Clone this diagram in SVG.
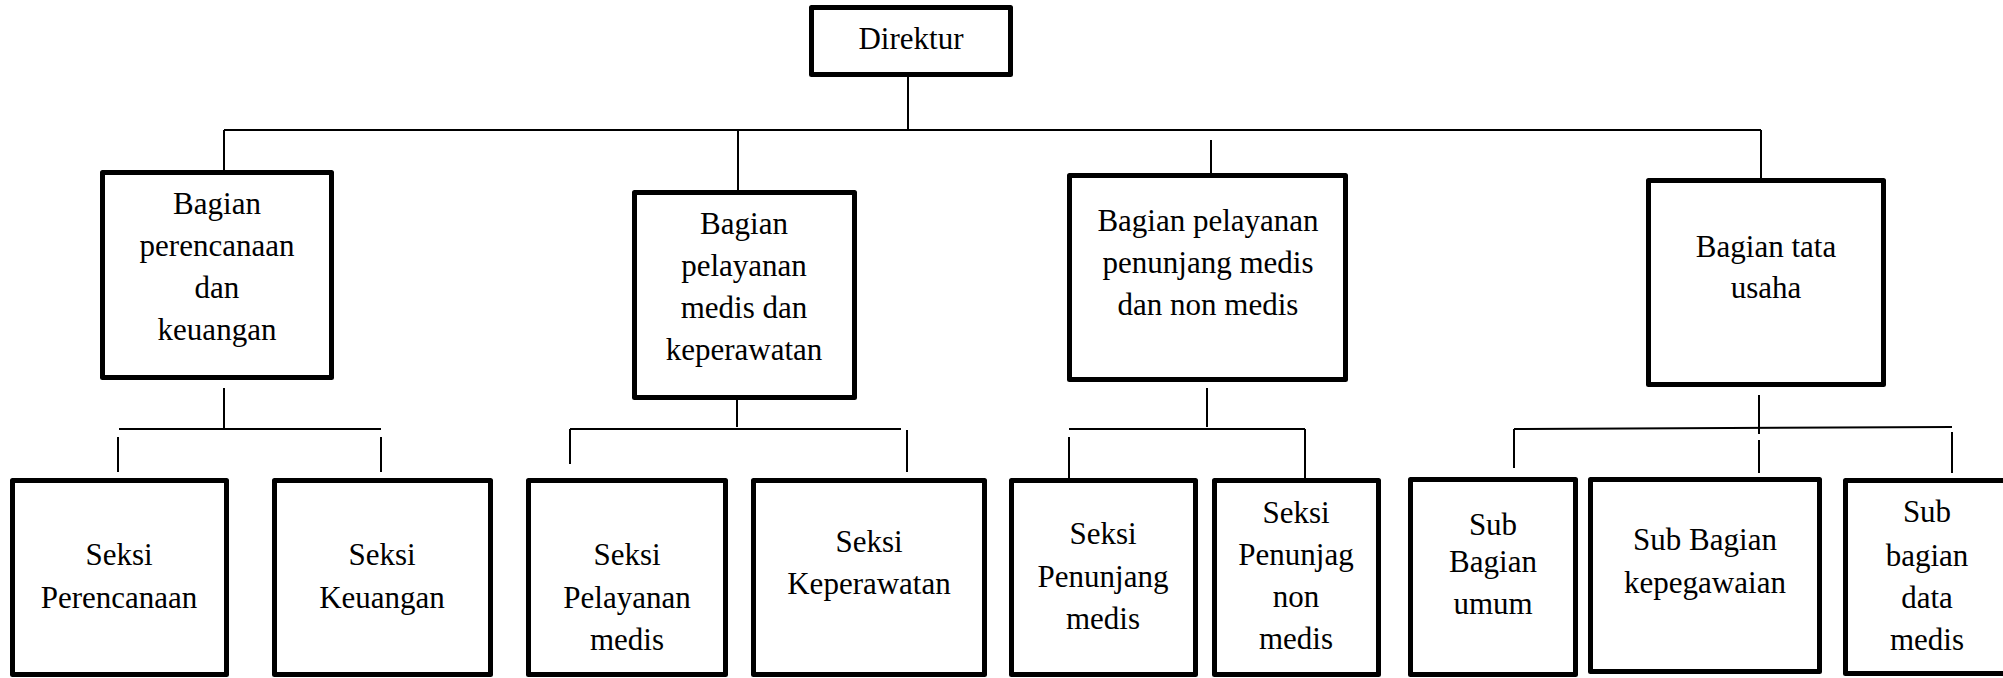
<svg xmlns="http://www.w3.org/2000/svg" width="2003" height="678" viewBox="0 0 2003 678">
<style>
.box{fill:#fff;stroke:#000;stroke-width:5;stroke-linejoin:round}
.ln{stroke:#000;stroke-width:2;fill:none}
text{font-family:"Liberation Serif","Times New Roman",serif;font-size:31px;fill:#000;text-anchor:middle}
</style>
<rect width="2003" height="678" fill="#fff"/>
<g id="connectors">
<line class="ln" x1="908" y1="75" x2="908" y2="130"/>
<line class="ln" x1="224" y1="130" x2="1761" y2="130"/>
<line class="ln" x1="224" y1="130" x2="224" y2="171"/>
<line class="ln" x1="738" y1="130" x2="738" y2="191"/>
<line class="ln" x1="1211" y1="140" x2="1211" y2="174"/>
<line class="ln" x1="1761" y1="130" x2="1761" y2="179"/>
<line class="ln" x1="224" y1="388" x2="224" y2="429"/>
<line class="ln" x1="119" y1="429" x2="381" y2="429"/>
<line class="ln" x1="118" y1="437" x2="118" y2="472"/>
<line class="ln" x1="381" y1="437" x2="381" y2="472"/>
<line class="ln" x1="737" y1="398" x2="737" y2="427"/>
<line class="ln" x1="570" y1="429" x2="901" y2="429"/>
<line class="ln" x1="570" y1="429" x2="570" y2="464"/>
<line class="ln" x1="907" y1="430" x2="907" y2="472"/>
<line class="ln" x1="1207" y1="388" x2="1207" y2="427"/>
<line class="ln" x1="1069" y1="429" x2="1305" y2="429"/>
<line class="ln" x1="1069" y1="437" x2="1069" y2="478"/>
<line class="ln" x1="1305" y1="429" x2="1305" y2="478"/>
<line class="ln" x1="1759" y1="395" x2="1759" y2="434"/>
<line class="ln" x1="1759" y1="440" x2="1759" y2="473"/>
<line class="ln" x1="1514" y1="429" x2="1952" y2="427"/>
<line class="ln" x1="1514" y1="429" x2="1514" y2="468"/>
<line class="ln" x1="1952" y1="432" x2="1952" y2="473"/>
</g>
<g id="direktur">
<rect class="box" x="811.5" y="7.5" width="199" height="67"/>
<text x="911" y="49">Direktur</text>
</g>
<g id="bagian-perencanaan">
<rect class="box" x="102.5" y="172.5" width="229" height="205"/>
<text x="217" y="214">Bagian</text>
<text x="217" y="256">perencanaan</text>
<text x="217" y="298">dan</text>
<text x="217" y="340">keuangan</text>
</g>
<g id="bagian-pelayanan-medis">
<rect class="box" x="634.5" y="192.5" width="220" height="205"/>
<text x="744" y="234">Bagian</text>
<text x="744" y="276">pelayanan</text>
<text x="744" y="318">medis dan</text>
<text x="744" y="360">keperawatan</text>
</g>
<g id="bagian-penunjang">
<rect class="box" x="1069.5" y="175.5" width="276" height="204"/>
<text x="1208" y="231">Bagian pelayanan</text>
<text x="1208" y="273">penunjang medis</text>
<text x="1208" y="315">dan non medis</text>
</g>
<g id="bagian-tata-usaha">
<rect class="box" x="1648.5" y="180.5" width="235" height="204"/>
<text x="1766" y="257">Bagian tata</text>
<text x="1766" y="298">usaha</text>
</g>
<g id="seksi-perencanaan">
<rect class="box" x="12.5" y="480.5" width="214" height="194"/>
<text x="119" y="565">Seksi</text>
<text x="119" y="608">Perencanaan</text>
</g>
<g id="seksi-keuangan">
<rect class="box" x="274.5" y="480.5" width="216" height="194"/>
<text x="382" y="565">Seksi</text>
<text x="382" y="608">Keuangan</text>
</g>
<g id="seksi-pelayanan-medis">
<rect class="box" x="528.5" y="480.5" width="197" height="194"/>
<text x="627" y="565">Seksi</text>
<text x="627" y="608">Pelayanan</text>
<text x="627" y="650">medis</text>
</g>
<g id="seksi-keperawatan">
<rect class="box" x="753.5" y="480.5" width="231" height="194"/>
<text x="869" y="552">Seksi</text>
<text x="869" y="594">Keperawatan</text>
</g>
<g id="seksi-penunjang-medis">
<rect class="box" x="1011.5" y="480.5" width="184" height="194"/>
<text x="1103" y="544">Seksi</text>
<text x="1103" y="587">Penunjang</text>
<text x="1103" y="629">medis</text>
</g>
<g id="seksi-penunjang-non-medis">
<rect class="box" x="1214.5" y="480.5" width="164" height="194"/>
<text x="1296" y="523">Seksi</text>
<text x="1296" y="565">Penunjag</text>
<text x="1296" y="607">non</text>
<text x="1296" y="649">medis</text>
</g>
<g id="sub-bagian-umum">
<rect class="box" x="1410.5" y="479.5" width="165" height="195"/>
<text x="1493" y="535">Sub</text>
<text x="1493" y="572">Bagian</text>
<text x="1493" y="614">umum</text>
</g>
<g id="sub-bagian-kepegawaian">
<rect class="box" x="1590.5" y="479.5" width="229" height="192"/>
<text x="1705" y="550">Sub Bagian</text>
<text x="1705" y="593">kepegawaian</text>
</g>
<g id="sub-bagian-data-medis">
<rect class="box" x="1845.5" y="480.5" width="165" height="193"/>
<text x="1927" y="522">Sub</text>
<text x="1927" y="566">bagian</text>
<text x="1927" y="608">data</text>
<text x="1927" y="650">medis</text>
</g>
</svg>
